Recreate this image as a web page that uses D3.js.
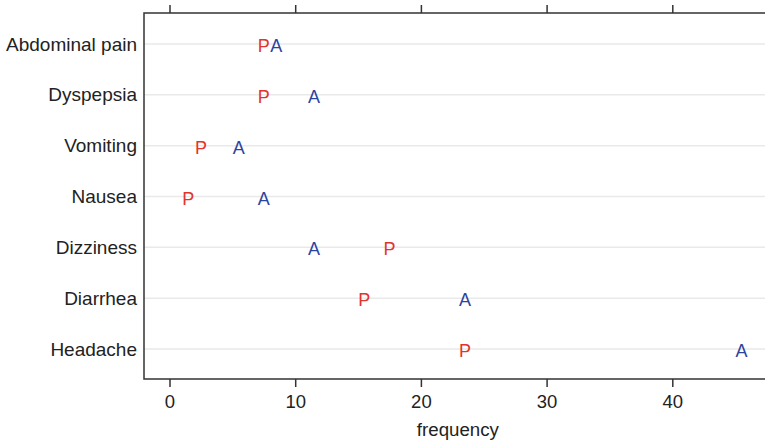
<!DOCTYPE html>
<html>
<head>
<meta charset="utf-8">
<style>
  body { margin: 0; background: #fff; }
  svg { font-family: "Liberation Sans", Arial, sans-serif; }
</style>
</head>
<body>
<svg id="chart" width="765" height="440"></svg>
<script src="https://cdn.jsdelivr.net/npm/d3@7"></script>
<script>
// symptoms, top to bottom
var symptoms = ['Abdominal pain', 'Dyspepsia', 'Vomiting', 'Nausea', 'Dizziness', 'Diarrhea', 'Headache'];
// frequency
var placebo = [7.5, 7.5, 2.5, 1.5, 17.5, 15.5, 23.5];
var active = [8.5, 11.5, 5.5, 7.5, 11.5, 23.5, 45.5];
var xTicks = [0, 10, 20, 30, 40];

var svg = d3.select('#chart');
var boxLeft = 144, boxTop = 13, boxBottom = 379, boxRight = 775;

var x = d3.scaleLinear().domain([0, 40]).range([169.5, 672.3]);
var y = d3.scalePoint().domain(symptoms).range([44, 349]);

// grid lines
svg.append('g').selectAll('line').data(symptoms).enter()
    .append('line')
    .attr('x1', boxLeft).attr('x2', boxRight)
    .attr('y1', function (d) { return y(d); })
    .attr('y2', function (d) { return y(d); })
    .attr('stroke', '#e9e9e9').attr('stroke-width', 1.5);

// box (no right side, it runs off the page)
svg.append('path')
    .attr('d', 'M' + boxRight + ',' + boxTop + 'H' + boxLeft + 'V' + boxBottom + 'H' + boxRight)
    .attr('fill', 'none').attr('stroke', '#333').attr('stroke-width', 1.5);

// axes
var xTop = d3.axisTop(x).tickValues(xTicks).tickSize(8).tickFormat('');
svg.append('g').attr('transform', 'translate(0,' + boxTop + ')').call(xTop)
    .call(function (g) { g.select('.domain').remove(); });

var xBottom = d3.axisBottom(x).tickValues(xTicks).tickSize(8).tickPadding(8);
svg.append('g').attr('class', 'xb').attr('transform', 'translate(0,' + boxBottom + ')').call(xBottom)
    .call(function (g) { g.select('.domain').remove(); });

var yAxis = d3.axisLeft(y).tickSize(0).tickPadding(7);
svg.append('g').attr('class', 'yl').attr('transform', 'translate(' + boxLeft + ',0)').call(yAxis)
    .call(function (g) { g.select('.domain').remove(); });

svg.selectAll('.tick line').attr('stroke', '#333').attr('stroke-width', 1.5);
svg.selectAll('.tick text').attr('fill', '#222')
    .attr('font-family', '"Liberation Sans", Arial, sans-serif');
svg.selectAll('.xb .tick text').attr('font-size', 18.5);
svg.selectAll('.yl .tick text').attr('font-size', 19);

svg.append('text')
    .attr('x', (x(0) + x(40)) / 2 + 37).attr('y', 436)
    .attr('text-anchor', 'middle').attr('font-size', 18.7).attr('fill', '#222')
    .text('frequency');

// markers
svg.append('g').selectAll('text').data(placebo).enter()
    .append('text')
    .attr('x', function (d) { return x(d); })
    .attr('y', function (d, i) { return y(symptoms[i]) + 8; })
    .attr('text-anchor', 'middle').attr('font-size', 18).attr('fill', '#e4332b')
    .text('P');

svg.append('g').selectAll('text').data(active).enter()
    .append('text')
    .attr('x', function (d) { return x(d); })
    .attr('y', function (d, i) { return y(symptoms[i]) + 8; })
    .attr('text-anchor', 'middle').attr('font-size', 18).attr('fill', '#2d43a0')
    .text('A');
</script>
</body>
</html>
